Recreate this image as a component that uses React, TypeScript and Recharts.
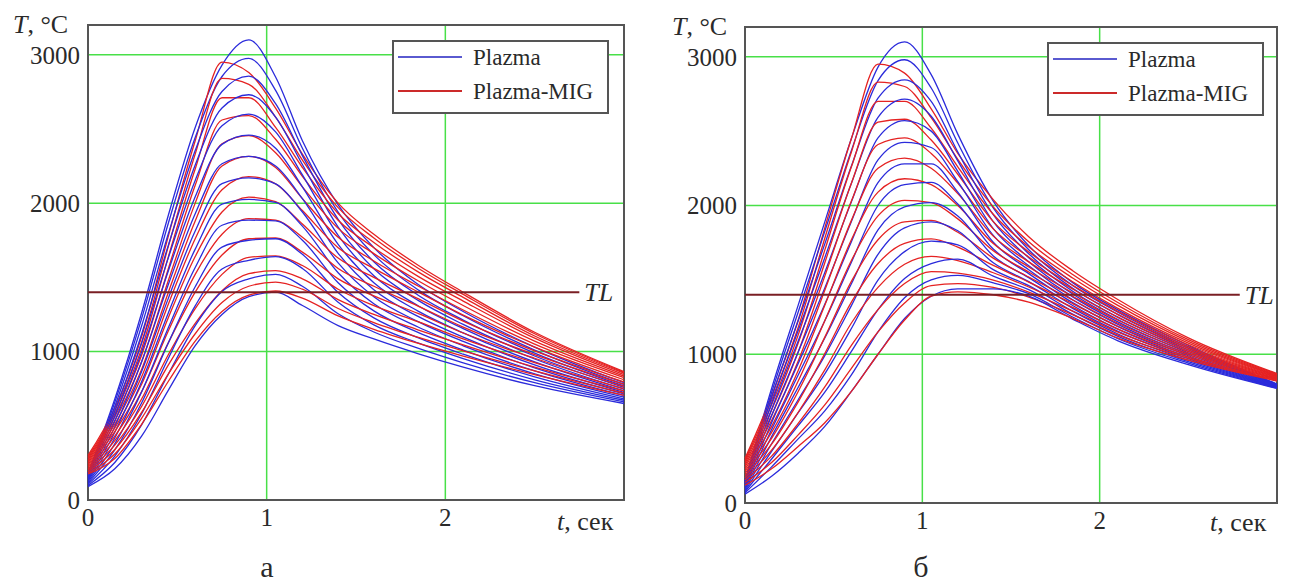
import React from 'react';
import { LineChart, Line, XAxis, YAxis, CartesianGrid, ReferenceLine, ReferenceArea } from 'recharts';

// time samples, seconds
const times = [0, 0.15, 0.3, 0.45, 0.6, 0.75, 0.9, 1.05, 1.2, 1.4, 1.6, 1.85, 2.1, 2.5, 3.0];

const xTicks = [0, 1, 2];
const yTicks = [0, 1000, 2000, 3000];
const TL = 1400;

// panel a - Plazma
const plazmaA = [
  [180, 680, 1260, 1920, 2510, 2930, 3100, 2850, 2420, 1988, 1700, 1450, 1270, 1030, 790],
  [176, 658, 1222, 1866, 2442, 2853, 2975, 2760, 2370, 1940, 1653, 1414, 1241, 1010, 779],
  [170, 630, 1172, 1795, 2354, 2752, 2855, 2670, 2320, 1891, 1605, 1378, 1212, 990, 768],
  [165, 599, 1117, 1717, 2257, 2641, 2730, 2580, 2260, 1839, 1558, 1343, 1183, 970, 758],
  [158, 566, 1058, 1633, 2153, 2522, 2600, 2480, 2190, 1783, 1511, 1307, 1155, 950, 747],
  [151, 531, 996, 1545, 2043, 2396, 2458, 2370, 2110, 1722, 1463, 1271, 1126, 930, 736],
  [144, 494, 931, 1453, 1928, 2265, 2315, 2250, 2030, 1662, 1416, 1235, 1097, 910, 725],
  [137, 457, 866, 1360, 1812, 2132, 2170, 2130, 1940, 1597, 1369, 1200, 1068, 890, 715],
  [130, 418, 797, 1262, 1690, 1993, 2025, 2005, 1845, 1531, 1322, 1164, 1039, 870, 704],
  [122, 378, 727, 1162, 1566, 1851, 1885, 1880, 1750, 1464, 1274, 1128, 1010, 850, 693],
  [114, 337, 654, 1059, 1437, 1704, 1750, 1760, 1655, 1398, 1227, 1092, 982, 830, 682],
  [106, 296, 581, 955, 1308, 1556, 1615, 1640, 1560, 1332, 1180, 1057, 953, 810, 672],
  [98, 253, 506, 849, 1175, 1405, 1490, 1520, 1440, 1255, 1132, 1021, 924, 790, 661],
  [90, 210, 430, 740, 1040, 1250, 1370, 1400, 1310, 1175, 1085, 985, 895, 770, 650],
];

// panel a - Plazma-MIG
const migA = [
  [300, 620, 1100, 1780, 2420, 2950, 2880, 2640, 2330, 2000, 1790, 1580, 1400, 1130, 865],
  [290, 600, 1060, 1710, 2330, 2840, 2800, 2580, 2290, 1970, 1765, 1560, 1385, 1120, 860],
  [280, 580, 1020, 1640, 2230, 2710, 2710, 2510, 2240, 1930, 1735, 1535, 1365, 1105, 855],
  [270, 560, 975, 1560, 2120, 2560, 2590, 2430, 2180, 1885, 1700, 1505, 1340, 1090, 845],
  [260, 535, 930, 1480, 2000, 2400, 2455, 2340, 2110, 1830, 1660, 1475, 1310, 1070, 835],
  [250, 510, 880, 1400, 1880, 2250, 2315, 2240, 2030, 1770, 1610, 1440, 1280, 1050, 825],
  [240, 485, 830, 1320, 1760, 2090, 2178, 2130, 1950, 1700, 1560, 1400, 1245, 1030, 810],
  [230, 460, 780, 1230, 1640, 1940, 2040, 2010, 1860, 1630, 1500, 1355, 1205, 1005, 795],
  [220, 430, 730, 1140, 1520, 1790, 1895, 1885, 1770, 1560, 1440, 1305, 1165, 980, 780],
  [210, 400, 680, 1060, 1400, 1650, 1760, 1765, 1670, 1490, 1375, 1255, 1125, 955, 765],
  [200, 370, 630, 980, 1290, 1520, 1635, 1645, 1580, 1420, 1310, 1200, 1085, 925, 750],
  [190, 340, 590, 910, 1190, 1410, 1525, 1545, 1490, 1350, 1250, 1145, 1045, 895, 735],
  [180, 310, 550, 850, 1120, 1330, 1440, 1468, 1420, 1290, 1195, 1095, 1005, 870, 720],
  [175, 280, 510, 800, 1070, 1270, 1380, 1408, 1360, 1240, 1150, 1055, 970, 845, 705],
];

// panel b - Plazma
const plazmaB = [
  [150, 770, 1330, 1890, 2450, 2930, 3100, 2880, 2480, 2030, 1730, 1480, 1300, 1060, 800],
  [146, 743, 1284, 1826, 2370, 2840, 2980, 2790, 2420, 1984, 1703, 1461, 1284, 1050, 798],
  [140, 709, 1225, 1742, 2265, 2722, 2845, 2700, 2360, 1938, 1676, 1442, 1268, 1040, 795],
  [135, 670, 1160, 1649, 2149, 2593, 2715, 2600, 2300, 1891, 1649, 1422, 1251, 1030, 793],
  [128, 629, 1089, 1550, 2025, 2454, 2570, 2500, 2230, 1845, 1622, 1403, 1235, 1020, 791],
  [121, 586, 1015, 1445, 1893, 2307, 2425, 2390, 2160, 1799, 1595, 1384, 1219, 1010, 788],
  [114, 540, 938, 1336, 1757, 2154, 2280, 2280, 2090, 1753, 1568, 1365, 1203, 1000, 786],
  [107, 494, 860, 1225, 1619, 2000, 2140, 2155, 2010, 1707, 1542, 1345, 1187, 990, 784],
  [100, 446, 778, 1109, 1474, 1836, 1990, 2020, 1930, 1661, 1515, 1326, 1171, 980, 782],
  [92, 398, 694, 991, 1327, 1672, 1850, 1890, 1830, 1615, 1488, 1307, 1155, 970, 779],
  [84, 347, 607, 868, 1173, 1499, 1690, 1760, 1735, 1569, 1461, 1288, 1138, 960, 777],
  [76, 296, 520, 745, 1019, 1300, 1510, 1610, 1640, 1525, 1434, 1268, 1122, 950, 775],
  [68, 243, 431, 619, 861, 1150, 1380, 1500, 1530, 1480, 1407, 1249, 1106, 940, 772],
  [60, 180, 335, 515, 750, 1000, 1240, 1390, 1440, 1440, 1390, 1235, 1092, 930, 770],
];

// panel b - Plazma-MIG
const migB = [
  [300, 720, 1230, 1850, 2450, 2950, 2890, 2650, 2350, 2040, 1790, 1560, 1370, 1110, 870],
  [290, 690, 1180, 1780, 2360, 2830, 2800, 2590, 2310, 1991, 1756, 1535, 1350, 1098, 866],
  [280, 660, 1130, 1700, 2260, 2700, 2700, 2520, 2260, 1941, 1722, 1511, 1330, 1087, 862],
  [268, 625, 1075, 1615, 2150, 2560, 2580, 2440, 2210, 1892, 1688, 1486, 1310, 1075, 858],
  [255, 590, 1015, 1525, 2030, 2410, 2455, 2350, 2150, 1843, 1654, 1461, 1290, 1064, 855],
  [242, 555, 955, 1430, 1900, 2250, 2318, 2250, 2080, 1794, 1621, 1437, 1270, 1052, 851],
  [228, 515, 890, 1330, 1770, 2090, 2180, 2140, 2000, 1744, 1587, 1412, 1250, 1041, 847],
  [214, 475, 820, 1225, 1630, 1930, 2035, 2020, 1910, 1696, 1553, 1388, 1230, 1029, 843],
  [200, 435, 750, 1115, 1490, 1770, 1890, 1900, 1820, 1646, 1519, 1363, 1210, 1018, 839],
  [185, 395, 680, 1005, 1350, 1610, 1745, 1775, 1720, 1597, 1485, 1339, 1190, 1006, 835],
  [170, 355, 610, 895, 1210, 1450, 1605, 1658, 1630, 1548, 1452, 1314, 1170, 995, 832],
  [155, 315, 535, 780, 1060, 1300, 1475, 1555, 1545, 1499, 1418, 1289, 1150, 983, 828],
  [138, 272, 458, 660, 905, 1150, 1345, 1462, 1475, 1449, 1384, 1265, 1130, 972, 824],
  [120, 230, 380, 540, 750, 1000, 1230, 1390, 1420, 1400, 1350, 1240, 1110, 960, 820],
];

const BLUE = '#2b2bdb';
const RED = '#e52222';
const GRID = '#48e048';
const FONT = "Liberation Serif, DejaVu Serif, serif";
const TEXT = '#2a2a2a';

const buildRows = (blue: number[][], red: number[][]) =>
  times.map((t, i) => {
    const row: Record<string, number> = { t };
    blue.forEach((s, k) => (row['b' + k] = s[i]));
    red.forEach((s, k) => (row['r' + k] = s[i]));
    return row;
  });

type PanelProps = {
  blue: number[][];
  red: number[][];
  tlEnd: number;
  left: number;
  width: number;
  height: number;
  margin: { top: number; right: number; bottom: number; left: number };
};

const tickStyle = { fontSize: 25, fill: TEXT, fontFamily: FONT };

const Panel: React.FC<PanelProps> = ({ blue, red, tlEnd, left, width, height, margin }) => {
  const rows = buildRows(blue, red);
  const lines: React.ReactNode[] = [];
  blue.forEach((_, k) => {
    lines.push(
      <Line key={'b' + k} dataKey={'b' + k} type="monotone" stroke={BLUE} strokeWidth={1.3}
        dot={false} activeDot={false} isAnimationActive={false} legendType="none" />
    );
    lines.push(
      <Line key={'r' + k} dataKey={'r' + k} type="monotone" stroke={RED} strokeWidth={1.3}
        dot={false} activeDot={false} isAnimationActive={false} legendType="none" />
    );
  });
  return (
    <div style={{ position: 'absolute', left, top: 0, fontFamily: FONT }}>
      <LineChart width={width} height={height} data={rows} margin={margin}>
        <CartesianGrid stroke={GRID} strokeWidth={1.5} />
        <XAxis dataKey="t" type="number" domain={[0, 3]} ticks={xTicks} interval={0}
          tickLine={false} axisLine={false} height={40} tick={tickStyle} />
        <YAxis type="number" domain={[0, 3200]} ticks={yTicks} interval={0}
          tickLine={false} axisLine={false} width={70} tick={tickStyle} />
        {lines}
        <ReferenceLine
          segment={[{ x: 0, y: TL }, { x: tlEnd, y: TL }]}
          stroke="#7a1f24" strokeWidth={2}
          label={{ value: 'TL', position: 'right', offset: 5, fill: TEXT, fontSize: 26, fontStyle: 'italic', fontFamily: FONT }}
        />
        <ReferenceArea x1={0} x2={3} y1={0} y2={3200} fill="none" stroke="#555" strokeWidth={2} ifOverflow="visible" />
      </LineChart>
    </div>
  );
};

const LegendBox: React.FC<{ x: number; y: number }> = ({ x, y }) => (
  <g>
    <rect x={x} y={y} width={215} height={72} fill="#fff" stroke="#555" strokeWidth={2} />
    <line x1={x + 5} x2={x + 69} y1={y + 16} y2={y + 16} stroke="#5a5ad0" strokeWidth={2} />
    <line x1={x + 5} x2={x + 69} y1={y + 50} y2={y + 50} stroke="#cc2a2a" strokeWidth={2} />
    <text x={x + 80} y={y + 24} fontSize={23} fontFamily={FONT} fill={TEXT}>Plazma</text>
    <text x={x + 80} y={y + 58} fontSize={23} fontFamily={FONT} fill={TEXT}>Plazma-MIG</text>
  </g>
);

const App: React.FC = () => (
  <div style={{ position: 'absolute', left: 0, top: 0, width: 1308, height: 585, background: '#fff', overflow: 'hidden', fontFamily: FONT }}>
    <Panel blue={plazmaA} red={migA} tlEnd={2.75} left={0} width={650} height={545}
      margin={{ top: 25, right: 26, bottom: 5, left: 18 }} />
    <Panel blue={plazmaB} red={migB} tlEnd={2.79} left={655} width={650} height={548}
      margin={{ top: 27, right: 28, bottom: 5, left: 20 }} />
    <svg width={1308} height={585} style={{ position: 'absolute', left: 0, top: 0, pointerEvents: 'none' }}>
      <LegendBox x={393} y={41} />
      <LegendBox x={1048} y={43} />
      <text x={13} y={33} fontSize={26} fontFamily={FONT} fill={TEXT}>
        <tspan fontStyle="italic">T</tspan>, °C
      </text>
      <text x={672} y={35} fontSize={26} fontFamily={FONT} fill={TEXT}>
        <tspan fontStyle="italic">T</tspan>, °C
      </text>
      <text x={557} y={530} fontSize={26} fontFamily={FONT} fill={TEXT}>
        <tspan fontStyle="italic">t</tspan>, сек
      </text>
      <text x={1210} y={531} fontSize={26} fontFamily={FONT} fill={TEXT}>
        <tspan fontStyle="italic">t</tspan>, сек
      </text>
      <text x={267} y={577} fontSize={30} fontFamily={FONT} fill={TEXT} textAnchor="middle">а</text>
      <text x={921} y={577} fontSize={30} fontFamily={FONT} fill={TEXT} textAnchor="middle">б</text>
    </svg>
  </div>
);

export default App;
